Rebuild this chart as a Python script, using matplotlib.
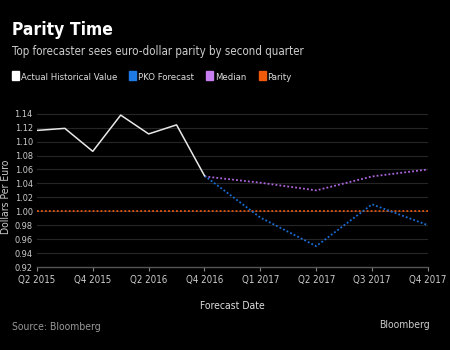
import matplotlib
matplotlib.use("Agg")
import matplotlib.pyplot as plt
from matplotlib.patches import Rectangle

plt.rcParams['font.family'] = ['DejaVu Sans']
plt.rcParams['font.stretch'] = 'condensed'

# quarterly history, then forecasts (x in tick units, history every half tick)
hist_x = [0, 0.5, 1, 1.5, 2, 2.5, 3]
hist_y = [1.116, 1.119, 1.086, 1.138, 1.111, 1.124, 1.051]
fc_x = [3, 4, 5, 6, 7]
pko_y = [1.051, 0.991, 0.950, 1.010, 0.980]
median_y = [1.050, 1.041, 1.030, 1.050, 1.060]
parity_x = [0, 1, 2, 3, 4, 5, 6, 7]
parity_y = [1.0, 1.0, 1.0, 1.0, 1.0, 1.0, 1.0, 1.0]
tick_labels = ['Q2 2015', 'Q4 2015', 'Q2 2016', 'Q4 2016',
               'Q1 2017', 'Q2 2017', 'Q3 2017', 'Q4 2017']
yticks = [0.92, 0.94, 0.96, 0.98, 1.00, 1.02, 1.04, 1.06, 1.08, 1.10, 1.12, 1.14]

legend_names = ['Actual Historical Value', 'PKO Forecast', 'Median', 'Parity']
legend_colors = ['#ffffff', '#1e7be6', '#c77ef0', '#f05a0a']

fig = plt.figure(figsize=(4.5, 3.5), dpi=100, facecolor='black')
ax = fig.add_axes([0.082, 0.237, 0.869, 0.462], facecolor='black')

for y in yticks[1:]:
    ax.axhline(y, color='#262626', lw=0.8, zorder=0)

ax.plot(parity_x, parity_y, color='#e8560c', lw=1.3, ls=(0, (1, 1.2)))
ax.plot(fc_x, median_y, color='#b066e0', lw=1.3, ls=(0, (1, 1.2)))
ax.plot(fc_x, pko_y, color='#1a6fd8', lw=1.3, ls=(0, (1, 1.2)))
ax.plot(hist_x, hist_y, color='#e8e8e8', lw=1.1)

ax.set_xlim(0, 7)
ax.set_ylim(0.92, 1.152)
ax.set_xticks(parity_x)
ax.set_xticklabels(tick_labels)
ax.set_yticks(yticks)
ax.set_yticklabels(['%.2f' % v for v in yticks])
ax.tick_params(axis='x', colors='#888888', labelcolor='#cccccc', labelsize=7,
               length=3, width=0.8, pad=3)
ax.tick_params(axis='y', length=0, labelcolor='#cccccc', labelsize=6.6, pad=3)
for s in ['top', 'right', 'left']:
    ax.spines[s].set_visible(False)
ax.spines['bottom'].set_color('#555555')
ax.spines['bottom'].set_linewidth(1.0)

ax.set_ylabel('Dollars Per Euro', color='#cccccc', fontsize=7.5)
ax.yaxis.set_label_coords(-0.066, 0.436)
ax.set_xlabel('Forecast Date', color='#dddddd', fontsize=7.5, labelpad=11)

fig.text(0.027, 0.9, 'Parity Time', color='white', fontsize=12.5, fontweight='bold')
fig.text(0.027, 0.843, 'Top forecaster sees euro-dollar parity by second quarter',
         color='#cccccc', fontsize=8.3)

# legend row laid out left to right
fig.canvas.draw()
renderer = fig.canvas.get_renderer()
x = 12
for name, col in zip(legend_names, legend_colors):
    fig.patches.append(Rectangle((x / 450, 1 - 80 / 350), 7 / 450, 9 / 350,
                                 transform=fig.transFigure, color=col))
    t = fig.text((x + 9) / 450, 1 - 79.5 / 350, name, color='#dddddd', fontsize=6.8)
    x = x + 9 + t.get_window_extent(renderer).width + 12

fig.text(0.027, 0.058, 'Source: Bloomberg', color='#999999', fontsize=7.5)
fig.text(0.955, 0.062, 'Bloomberg', color='#cccccc', fontsize=7.5, ha='right')

fig.savefig('out.png', dpi=100, facecolor='black')
